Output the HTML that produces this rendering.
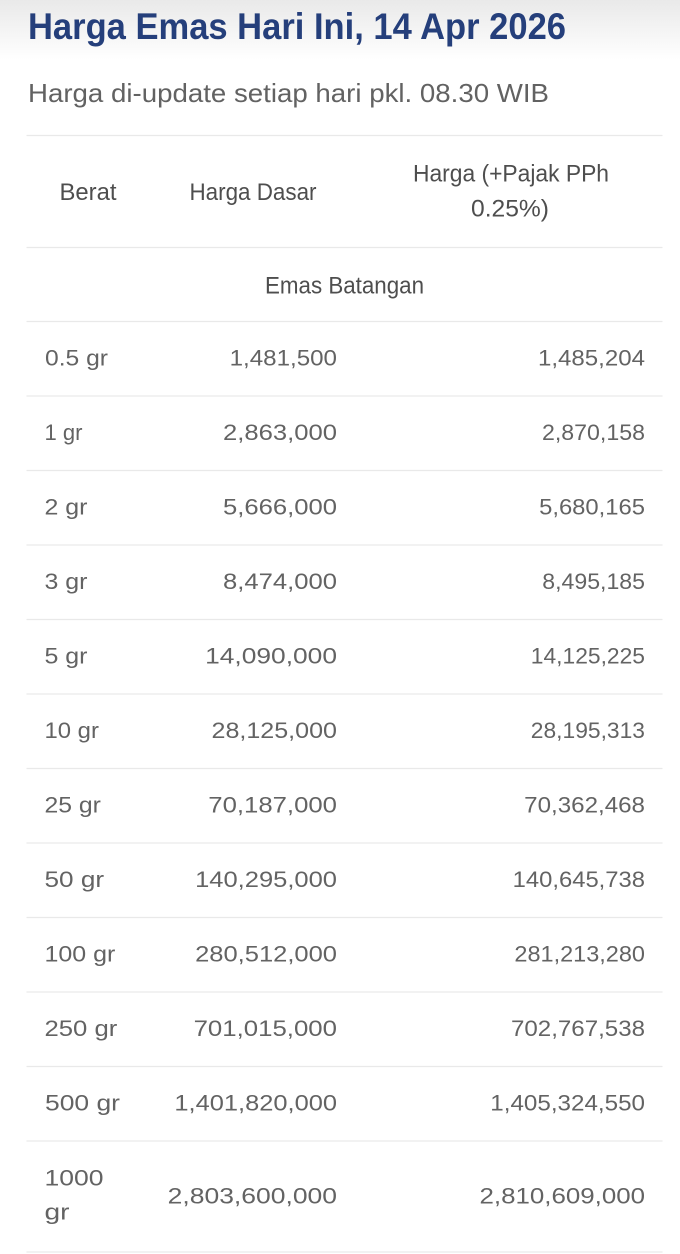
<!DOCTYPE html>
<html>
<head>
<meta charset="utf-8">
<style>
  html, body { margin:0; padding:0; background:#fff; }
  body { width:680px; height:1254px; overflow:hidden; }
  svg { display:block; }
  .t { font-family:"Liberation Sans", sans-serif; }
  .title { font-weight:bold; font-size:37px; fill:#253f7b; }
  .sub { font-size:26px; fill:#626262; }
  .hd { font-size:24px; fill:#4e4e4e; }
  .d { font-size:22.5px; fill:#636363; }
  .ln { stroke:#e9e9e9; stroke-width:1.2; }
</style>
</head>
<body>
<svg width="680" height="1254" viewBox="0 0 680 1254" xmlns="http://www.w3.org/2000/svg">
  <defs>
    <linearGradient id="g" x1="0" y1="0" x2="0" y2="1">
      <stop offset="0" stop-color="#e9e9e9"/>
      <stop offset="1" stop-color="#ffffff"/>
    </linearGradient>
  </defs>
  <rect x="0" y="0" width="680" height="60" fill="url(#g)"/>

  <text class="t title" x="28" y="39" textLength="538" lengthAdjust="spacingAndGlyphs">Harga Emas Hari Ini, 14 Apr 2026</text>
  <text class="t sub" x="28" y="102" textLength="521" lengthAdjust="spacingAndGlyphs">Harga di-update setiap hari pkl. 08.30 WIB</text>

  <!-- lines -->
  <line class="ln" x1="26.5" x2="662.5" y1="135.5" y2="135.5"/>
  <line class="ln" x1="26.5" x2="662.5" y1="247.5" y2="247.5"/>
  <line class="ln" x1="26.5" x2="662.5" y1="321.5" y2="321.5"/>
  <line class="ln" x1="26.5" x2="662.5" y1="396" y2="396"/>
  <line class="ln" x1="26.5" x2="662.5" y1="470.5" y2="470.5"/>
  <line class="ln" x1="26.5" x2="662.5" y1="545" y2="545"/>
  <line class="ln" x1="26.5" x2="662.5" y1="619.5" y2="619.5"/>
  <line class="ln" x1="26.5" x2="662.5" y1="694" y2="694"/>
  <line class="ln" x1="26.5" x2="662.5" y1="768.5" y2="768.5"/>
  <line class="ln" x1="26.5" x2="662.5" y1="843" y2="843"/>
  <line class="ln" x1="26.5" x2="662.5" y1="917.5" y2="917.5"/>
  <line class="ln" x1="26.5" x2="662.5" y1="992" y2="992"/>
  <line class="ln" x1="26.5" x2="662.5" y1="1066.5" y2="1066.5"/>
  <line class="ln" x1="26.5" x2="662.5" y1="1141" y2="1141"/>
  <line class="ln" x1="26.5" x2="662.5" y1="1252" y2="1252"/>

  <!-- header -->
  <text class="t hd" x="59.5" y="200" textLength="57" lengthAdjust="spacingAndGlyphs">Berat</text>
  <text class="t hd" x="189.5" y="200" textLength="127" lengthAdjust="spacingAndGlyphs">Harga Dasar</text>
  <text class="t hd" x="413" y="181.5" textLength="196" lengthAdjust="spacingAndGlyphs">Harga (+Pajak PPh</text>
  <text class="t hd" x="471" y="216.5" textLength="78" lengthAdjust="spacingAndGlyphs">0.25%)</text>
  <text class="t hd" x="265" y="293.3" textLength="159" lengthAdjust="spacingAndGlyphs">Emas Batangan</text>

  <!-- rows -->
  <g class="t d">
    <text x="45" y="365.5" textLength="63" lengthAdjust="spacingAndGlyphs">0.5 gr</text>
    <text x="337" y="365.5" text-anchor="end" textLength="107.4" lengthAdjust="spacingAndGlyphs">1,481,500</text>
    <text x="645" y="365.5" text-anchor="end" textLength="107" lengthAdjust="spacingAndGlyphs">1,485,204</text>

    <text x="44.5" y="440" textLength="38" lengthAdjust="spacingAndGlyphs">1 gr</text>
    <text x="337" y="440" text-anchor="end" textLength="114" lengthAdjust="spacingAndGlyphs">2,863,000</text>
    <text x="645" y="440" text-anchor="end" textLength="103" lengthAdjust="spacingAndGlyphs">2,870,158</text>

    <text x="44.5" y="514.5" textLength="43" lengthAdjust="spacingAndGlyphs">2 gr</text>
    <text x="337" y="514.5" text-anchor="end" textLength="114" lengthAdjust="spacingAndGlyphs">5,666,000</text>
    <text x="645" y="514.5" text-anchor="end" textLength="105.9" lengthAdjust="spacingAndGlyphs">5,680,165</text>

    <text x="44.5" y="589" textLength="43" lengthAdjust="spacingAndGlyphs">3 gr</text>
    <text x="337" y="589" text-anchor="end" textLength="114" lengthAdjust="spacingAndGlyphs">8,474,000</text>
    <text x="645" y="589" text-anchor="end" textLength="102.7" lengthAdjust="spacingAndGlyphs">8,495,185</text>

    <text x="44.5" y="663.5" textLength="43" lengthAdjust="spacingAndGlyphs">5 gr</text>
    <text x="337" y="663.5" text-anchor="end" textLength="131.9" lengthAdjust="spacingAndGlyphs">14,090,000</text>
    <text x="645" y="663.5" text-anchor="end" textLength="114.2" lengthAdjust="spacingAndGlyphs">14,125,225</text>

    <text x="44.5" y="738" textLength="54.4" lengthAdjust="spacingAndGlyphs">10 gr</text>
    <text x="337" y="738" text-anchor="end" textLength="125.5" lengthAdjust="spacingAndGlyphs">28,125,000</text>
    <text x="645" y="738" text-anchor="end" textLength="114.2" lengthAdjust="spacingAndGlyphs">28,195,313</text>

    <text x="44.5" y="812.5" textLength="56.4" lengthAdjust="spacingAndGlyphs">25 gr</text>
    <text x="337" y="812.5" text-anchor="end" textLength="128.7" lengthAdjust="spacingAndGlyphs">70,187,000</text>
    <text x="645" y="812.5" text-anchor="end" textLength="120.8" lengthAdjust="spacingAndGlyphs">70,362,468</text>

    <text x="44.5" y="887" textLength="59.6" lengthAdjust="spacingAndGlyphs">50 gr</text>
    <text x="337" y="887" text-anchor="end" textLength="141.9" lengthAdjust="spacingAndGlyphs">140,295,000</text>
    <text x="645" y="887" text-anchor="end" textLength="132.3" lengthAdjust="spacingAndGlyphs">140,645,738</text>

    <text x="44.5" y="961.5" textLength="70.8" lengthAdjust="spacingAndGlyphs">100 gr</text>
    <text x="337" y="961.5" text-anchor="end" textLength="141.9" lengthAdjust="spacingAndGlyphs">280,512,000</text>
    <text x="645" y="961.5" text-anchor="end" textLength="130.6" lengthAdjust="spacingAndGlyphs">281,213,280</text>

    <text x="44.5" y="1036" textLength="72.8" lengthAdjust="spacingAndGlyphs">250 gr</text>
    <text x="337" y="1036" text-anchor="end" textLength="143.4" lengthAdjust="spacingAndGlyphs">701,015,000</text>
    <text x="645" y="1036" text-anchor="end" textLength="134" lengthAdjust="spacingAndGlyphs">702,767,538</text>

    <text x="45" y="1110.5" textLength="75" lengthAdjust="spacingAndGlyphs">500 gr</text>
    <text x="337" y="1110.5" text-anchor="end" textLength="162.6" lengthAdjust="spacingAndGlyphs">1,401,820,000</text>
    <text x="645" y="1110.5" text-anchor="end" textLength="154.7" lengthAdjust="spacingAndGlyphs">1,405,324,550</text>

    <text x="44.5" y="1185.5" textLength="59" lengthAdjust="spacingAndGlyphs">1000</text>
    <text x="44.5" y="1219.5" textLength="25" lengthAdjust="spacingAndGlyphs">gr</text>
    <text x="337" y="1203.5" text-anchor="end" textLength="169.3" lengthAdjust="spacingAndGlyphs">2,803,600,000</text>
    <text x="645" y="1203.5" text-anchor="end" textLength="165.5" lengthAdjust="spacingAndGlyphs">2,810,609,000</text>
  </g>
</svg>
</body>
</html>
